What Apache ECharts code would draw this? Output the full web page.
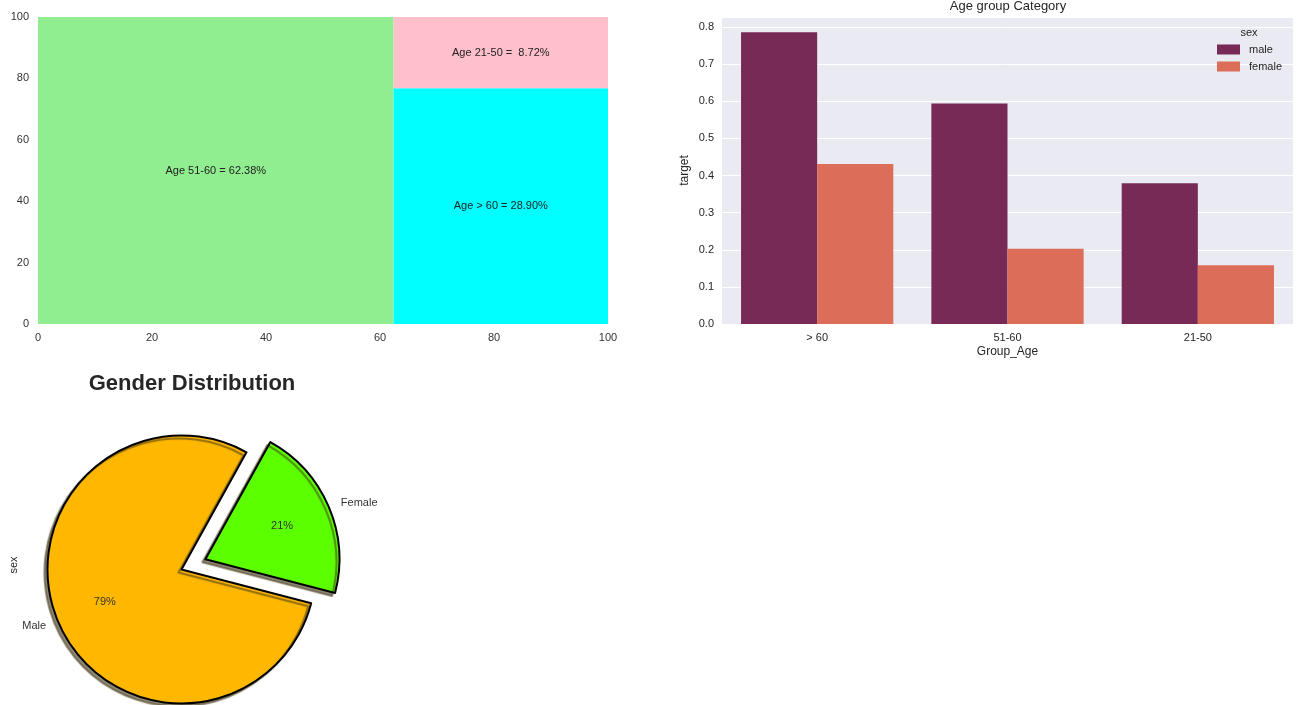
<!DOCTYPE html>
<html>
<head>
<meta charset="utf-8">
<script src="https://cdn.jsdelivr.net/npm/echarts@6/dist/echarts.min.js"></script>
<style>html,body{margin:0;padding:0;background:#fff;}#c{width:1308px;height:705px;}</style>
</head>
<body>
<div id="c"></div>
<script>
// ---- data ----
const treeNames = ['Age 51-60', 'Age > 60', 'Age 21-50'];
const treeValues = [62.38, 28.90, 8.72];
const treeColors = ['#90EE90', '#00FFFF', '#FFC0CB'];
const treeTicks = [0, 20, 40, 60, 80, 100];

const ageGroups = ['> 60', '51-60', '21-50'];
const maleTarget = [0.786, 0.594, 0.379];
const femaleTarget = [0.431, 0.203, 0.158];
const sexNames = ['male', 'female'];

const pieNames = ['Male', 'Female'];
const pieValues = [79, 21];
const pieColors = ['#FFB700', '#5CFF00'];

const FONT = '"Liberation Sans", Arial, sans-serif';
const TXT = '#333333';

// ---- squarify layout (area 100 x 100) ----
function sum(a){return a.reduce((s,v)=>s+v,0);}
function layoutRow(s,x,y,dx,dy){const w=sum(s)/dy;const r=[];for(const v of s){r.push([x,y,w,v/w]);y+=v/w;}return r;}
function layoutCol(s,x,y,dx,dy){const h=sum(s)/dx;const r=[];for(const v of s){r.push([x,y,v/h,h]);x+=v/h;}return r;}
function layout(s,x,y,dx,dy){return dx>=dy?layoutRow(s,x,y,dx,dy):layoutCol(s,x,y,dx,dy);}
function leftover(s,x,y,dx,dy){if(dx>=dy){const w=sum(s)/dy;return [x+w,y,dx-w,dy];}const h=sum(s)/dx;return [x,y+h,dx,dy-h];}
function worst(s,x,y,dx,dy){return Math.max(...layout(s,x,y,dx,dy).map(r=>Math.max(r[2]/r[3],r[3]/r[2])));}
function squarify(s,x,y,dx,dy){
  if(!s.length)return [];
  if(s.length===1)return layout(s,x,y,dx,dy);
  let i=1;
  while(i<s.length && worst(s.slice(0,i),x,y,dx,dy)>=worst(s.slice(0,i+1),x,y,dx,dy)) i++;
  const cur=s.slice(0,i), rem=s.slice(i);
  const lo=leftover(cur,x,y,dx,dy);
  return layout(cur,x,y,dx,dy).concat(squarify(rem,lo[0],lo[1],lo[2],lo[3]));
}
const tot = sum(treeValues);
const rects = squarify(treeValues.map(v=>v/tot*10000),0,0,100,100);
const treeData = rects.map((r,i)=>[r[0],r[1],r[2],r[3],i]);

const PIE_C = [181.5, 569.5], PIE_R = 134;

const chart = echarts.init(document.getElementById('c'));
chart.setOption({
  backgroundColor:'#ffffff',
  animation:false,
  textStyle:{fontFamily:FONT},
  title:[
    {text:'Age group Category',left:1008,top:0,padding:0,textAlign:'center',
     textStyle:{fontSize:13,fontWeight:'normal',color:'#262626',fontFamily:FONT}},
    {text:'Gender Distribution',left:192,top:373,padding:0,textAlign:'center',
     textStyle:{fontSize:22,fontWeight:'bold',color:'#262626',fontFamily:FONT}},
    {text:'sex',left:1249,top:27,padding:0,textAlign:'center',
     textStyle:{fontSize:11,fontWeight:'normal',color:'#262626',fontFamily:FONT}}
  ],
  legend:{
    data:sexNames, orient:'vertical', left:1217, top:44, padding:0, itemWidth:23, itemHeight:10, itemGap:6,
    icon:'rect', textStyle:{fontSize:11,color:'#262626',fontFamily:FONT,padding:[0,0,0,4]}
  },
  grid:[
    {left:38,top:17,width:570,height:307,containLabel:false},
    {left:722,top:17,width:571,height:307,containLabel:false,show:true,backgroundColor:'#EAEAF2',borderWidth:0}
  ],
  xAxis:[
    {gridIndex:0,type:'value',min:0,max:100,interval:20,
     axisLine:{show:false},axisTick:{show:false},splitLine:{show:false},
     axisLabel:{fontSize:11,color:TXT,margin:8,fontFamily:FONT}},
    {gridIndex:1,type:'category',data:ageGroups,
     axisLine:{show:false},axisTick:{show:false},splitLine:{show:false},
     axisLabel:{fontSize:11,color:'#262626',margin:8,fontFamily:FONT},
     name:'Group_Age',nameLocation:'middle',nameGap:22,
     nameTextStyle:{fontSize:12,color:'#262626',fontFamily:FONT}}
  ],
  yAxis:[
    {gridIndex:0,type:'value',min:0,max:100,interval:20,
     axisLine:{show:false},axisTick:{show:false},splitLine:{show:false},
     axisLabel:{fontSize:11,color:TXT,margin:9,fontFamily:FONT}},
    {gridIndex:1,type:'value',min:0,max:0.827,interval:0.1,
     axisLine:{show:false},axisTick:{show:false},
     splitLine:{show:true,lineStyle:{color:'#ffffff',width:1}},
     axisLabel:{fontSize:11,color:'#262626',margin:8,fontFamily:FONT,
       formatter:v=>Math.abs(v*10-Math.round(v*10))<1e-6?v.toFixed(1):''},
     name:'target',nameLocation:'middle',nameGap:31,nameRotate:90,
     nameTextStyle:{fontSize:12,color:'#262626',fontFamily:FONT}}
  ],
  graphic:[
    {type:'text',x:14,y:565,rotation:Math.PI/2,
     style:{text:'sex',fill:'#262626',font:'11px '+FONT,align:'center',verticalAlign:'middle'}}
  ],
  series:[
    {
      type:'custom',xAxisIndex:0,yAxisIndex:0,data:treeData,silent:true,
      renderItem:function(params,api){
        const x=api.value(0),y=api.value(1),dx=api.value(2),dy=api.value(3),i=api.value(4);
        const p0=api.coord([x,y+dy]);
        const p1=api.coord([x+dx,y]);
        const label=treeNames[i]+' = '+treeValues[i].toFixed(2).padStart(5,' ')+'%';
        return {type:'group',children:[
          {type:'rect',shape:{x:p0[0],y:p0[1],width:p1[0]-p0[0],height:p1[1]-p0[1]},
           style:{fill:treeColors[i],stroke:null}},
          {type:'text',x:(p0[0]+p1[0])/2,y:(p0[1]+p1[1])/2,
           style:{text:label,fill:'#222',font:'11px '+FONT,align:'center',verticalAlign:'middle'}}
        ]};
      }
    },
    {name:'male',type:'bar',xAxisIndex:1,yAxisIndex:1,data:maleTarget,
     barGap:'0%',barCategoryGap:'20%',itemStyle:{color:'#772A56'}},
    {name:'female',type:'bar',xAxisIndex:1,yAxisIndex:1,data:femaleTarget,
     barGap:'0%',barCategoryGap:'20%',itemStyle:{color:'#DC6D59'}},
    {
      type:'pie',center:PIE_C,radius:[0,PIE_R],startAngle:61,clockwise:false,
      avoidLabelOverlap:false,selectedMode:'multiple',selectedOffset:26,
      emphasis:{disabled:true},
      data:pieNames.map((n,i)=>({name:n,value:pieValues[i],selected:i===1,
        itemStyle:{color:pieColors[i]}})),
      itemStyle:{borderColor:'#000',borderWidth:2,shadowBlur:1,shadowOffsetX:-3,shadowOffsetY:3,
        shadowColor:'rgba(70,58,25,0.6)'},
      select:{itemStyle:{borderColor:'#000',borderWidth:2}},
      label:{show:true,position:'outside',formatter:'{b}',fontSize:11,color:TXT,fontFamily:FONT,
        distanceToLabelLine:4},
      labelLine:{show:false,length:9,length2:0}
    },
    {
      type:'pie',center:PIE_C,radius:[PIE_R*0.2,PIE_R],startAngle:61,clockwise:false,
      avoidLabelOverlap:false,selectedMode:'multiple',selectedOffset:26,silent:true,z:5,
      emphasis:{disabled:true},
      data:pieNames.map((n,i)=>({name:n,value:pieValues[i],selected:i===1})),
      itemStyle:{color:'rgba(0,0,0,0)',borderWidth:0},
      select:{itemStyle:{color:'rgba(0,0,0,0)',borderWidth:0}},
      label:{show:true,position:'inside',formatter:p=>Math.round(p.percent)+'%',
        fontSize:11,color:TXT,fontFamily:FONT},
      labelLine:{show:false}
    }
  ]
});
</script>
</body>
</html>
